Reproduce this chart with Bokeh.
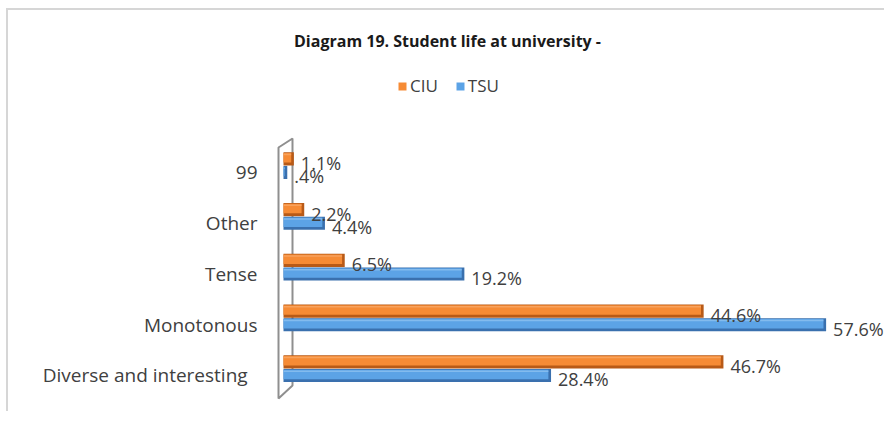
from bokeh.plotting import figure
from bokeh.models import Range1d, FixedTicker, Legend, LegendItem, Label, ColumnDataSource
from bokeh.core.properties import value
from bokeh.embed import file_html
from bokeh.resources import INLINE

# ---- data ----
categories = ["Diverse and interesting", "Monotonous", "Tense", "Other", "99"]
ciu = [46.7, 44.6, 6.5, 2.2, 1.1]
tsu = [28.4, 57.6, 19.2, 4.4, 0.4]
series_names = ["CIU", "TSU"]
title_text = "Diagram 19. Student life at university -"


def fmt(v):
    s = f"{v:.1f}%"
    return s[1:] if s.startswith("0.") else s


idx = list(range(len(categories)))

FONT = "Open Sans"
TXT = "#404040"
ORANGE, ORANGE_DK, ORANGE_LT = "#F68B35", "#B85A17", "#F9A867"
BLUE, BLUE_DK, BLUE_LT = "#5CA3E6", "#3A70AE", "#8DC0F0"

DODGE_CIU = 0.27
DODGE_TSU = 0.0
BAR_H = 0.26
CAP = 0.28  # end-cap width in data units

p = figure(width=878, height=403,
           x_range=Range1d(-1.168, 64.01), y_range=Range1d(-0.749, 7.192),
           output_backend="svg", toolbar_location=None,
           x_axis_location=None, y_axis_location="left",
           min_border_left=264, min_border_right=0,
           min_border_top=0, min_border_bottom=0)
p.styles = {"border-left": "2px solid #d6d6d6", "border-top": "2px solid #d6d6d6",
            "margin-left": "6px", "margin-top": "8px"}
p.outline_line_color = None
p.xgrid.visible = False
p.ygrid.visible = False
p.background_fill_color = "white"
p.border_fill_color = "white"

# y axis with category labels
ax = p.yaxis[0]
ax.ticker = FixedTicker(ticks=idx)
overrides = {}
for i, c in zip(idx, categories):
    overrides[i] = c + ("\u00a0\u00a0" if len(c) > 15 else "")
ax.major_label_overrides = overrides
ax.axis_line_color = None
ax.major_tick_line_color = None
ax.minor_tick_line_color = None
ax.major_tick_out = 0
ax.major_tick_in = 0
ax.major_label_standoff = 15
ax.major_label_text_font = FONT
ax.major_label_text_font_size = "19px"
ax.major_label_text_color = TXT

# 3D axis wall
p.patch(x=[-0.53, 0.955, 0.955, -0.53], y=[4.493, 4.67, -0.197, -0.453],
        fill_color="white", line_color="#8f8f8f", line_width=2)


def bars(vals, dodge, main, dark, light):
    y = [i + dodge for i in idx]
    src = ColumnDataSource(dict(y=y, right=vals,
                                inner=[max(v - CAP, 0.05) for v in vals],
                                yin=[v + 0.02 for v in y],
                                yhl=[v + 0.085 for v in y]))
    p.hbar(y="y", left=0, right="right", height=BAR_H, source=src,
           fill_color=dark, line_color=None)
    r = p.hbar(y="yin", left=0, right="inner", height=BAR_H * 0.72, source=src,
               fill_color=main, line_color=None)
    p.hbar(y="yhl", left=0, right="inner", height=BAR_H * 0.12, source=src,
           fill_color=light, line_color=None, fill_alpha=0.8)
    return r


def labels(vals, dodge):
    y = [i + dodge for i in idx]
    p.text(x=vals, y=y, text=[fmt(v) for v in vals], x_offset=7, y_offset=4,
           text_font=value(FONT), text_font_size="18px", text_color=TXT,
           text_baseline="middle", text_align="left")


r_ciu = bars(ciu, DODGE_CIU, ORANGE, ORANGE_DK, ORANGE_LT)
r_tsu = bars(tsu, DODGE_TSU, BLUE, BLUE_DK, BLUE_LT)
labels(ciu, DODGE_CIU)
labels(tsu, DODGE_TSU)

# title
p.add_layout(Label(x=17.41, y=6.60, text=title_text, text_align="center",
                   text_baseline="middle", text_font=FONT, text_font_style="bold",
                   text_font_size="16px", text_color="#1a1a1a"))

legend = Legend(items=[LegendItem(label=series_names[0], renderers=[r_ciu]),
                       LegendItem(label=series_names[1], renderers=[r_tsu])],
                location=(125, 316), orientation="horizontal",
                glyph_width=10, glyph_height=10, label_standoff=3, spacing=17,
                padding=0, margin=0, border_line_color=None,
                background_fill_alpha=0, label_text_font=FONT,
                label_text_font_size="17px", label_text_color=TXT, label_height=20)
p.add_layout(legend, "center")

open("out.html", "w").write(file_html(p, INLINE))
